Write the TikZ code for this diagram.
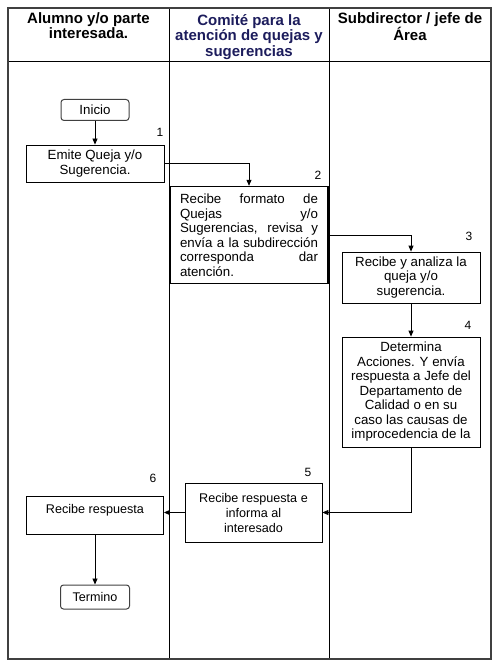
\documentclass[tikz,border=0pt]{standalone}
\usepackage{fontspec}
\setmainfont{Liberation Sans}
\usepackage{xcolor}
\usetikzlibrary{arrows.meta,positioning}
\definecolor{comite}{RGB}{28,28,92}

\begin{document}
\begin{tikzpicture}[x=1pt,y=-1pt,
        lane/.style={draw=black!75, line width=1.4pt},
        box/.style={draw, line width=0.8pt, align=center, inner sep=2pt, font=\fontsize{13.3}{14.5}\selectfont},
        term/.style={box, rounded corners=3pt, draw=black!75, line width=1pt},
        head/.style={anchor=north, align=center, inner sep=0pt, font=\bfseries\fontsize{15}{15.5}\selectfont},
        num/.style={inner sep=0pt, font=\fontsize{12}{14}\selectfont},
        flow/.style={-{Triangle[length=6pt,width=5pt]}, line width=0.8pt}]
        \useasboundingbox (0,0) rectangle (500,668);

        % Lanes
        \draw[line width=0.8pt] (8,61) -- (491,61);
        \draw[line width=0.8pt] (169,8) -- (169,659);
        \draw[line width=0.8pt] (329,8) -- (329,659);
        \draw[lane] (8,8) rectangle (491,659);

        % Headers
        \node[head] (alumno) at (88.5,12) {Alumno y/o parte\\interesada.};
        \node[head, text=comite] (comite) at (249,14) {Comité para la\\atención de quejas y\\sugerencias};
        \node[head] (subdir) at (410,12) {Subdirector / jefe de\\Área};

        % Steps
        \node[term, minimum width=68pt, minimum height=21pt] (inicio) at (95,110) {Inicio};
        \node[box, minimum width=138pt, minimum height=37pt] (emite) at (95,163.5) {Emite Queja y/o\\Sugerencia.};
        \node[box, line width=1.4pt, minimum width=158pt, minimum height=97pt, text width=138pt, align=justify] (recibe) at (249,235)
            {Recibe formato de\linebreak Quejas y/o\linebreak Sugerencias, revisa y\linebreak envía a la subdirección\linebreak corresponda dar\linebreak atención.};
        \node[box, minimum width=138pt, minimum height=51pt] (analiza) at (411,277.5) {Recibe y analiza la\\queja y/o\\sugerencia.};
        \node[box, minimum width=138pt, minimum height=110pt] (determina) at (411,392)
            {Determina\\Acciones. Y envía\\respuesta a Jefe del\\Departamento de\\Calidad o en su\\caso las causas de\\improcedencia de la};
        \node[box, font=\fontsize{12.6}{15}\selectfont, minimum width=137pt, minimum height=59pt] (informa) at (253.5,512.5) {Recibe respuesta e\\informa al\\interesado};
        \node[box, font=\fontsize{12.6}{15}\selectfont, text height=10pt, text depth=14pt, minimum width=137pt, minimum height=38pt] (respuesta) at (95,515) {Recibe respuesta};
        \node[term, font=\fontsize{12.6}{15}\selectfont, minimum width=69pt, minimum height=24pt] (termino) at (95,597) {Termino};

        % Step numbers
        \node[num] (n1) at (160,132) {1};
        \node[num] (n2) at (318,175) {2};
        \node[num] (n3) at (469,236) {3};
        \node[num] (n4) at (468,325) {4};
        \node[num] (n5) at (308,472) {5};
        \node[num] (n6) at (153,478) {6};

        % Flow
        \draw[flow] (inicio) -- (emite);
        \draw[flow] (emite.east) -| (recibe.north);
        \draw[flow] (recibe.east) -| (analiza.north);
        \draw[flow] (analiza) -- (determina);
        \draw[flow] (determina.south) |- (informa.east);
        \draw[flow] (informa.west) -- (informa.west -| respuesta.east);
        \draw[flow] (respuesta) -- (termino);
    \end{tikzpicture}
\end{document}
